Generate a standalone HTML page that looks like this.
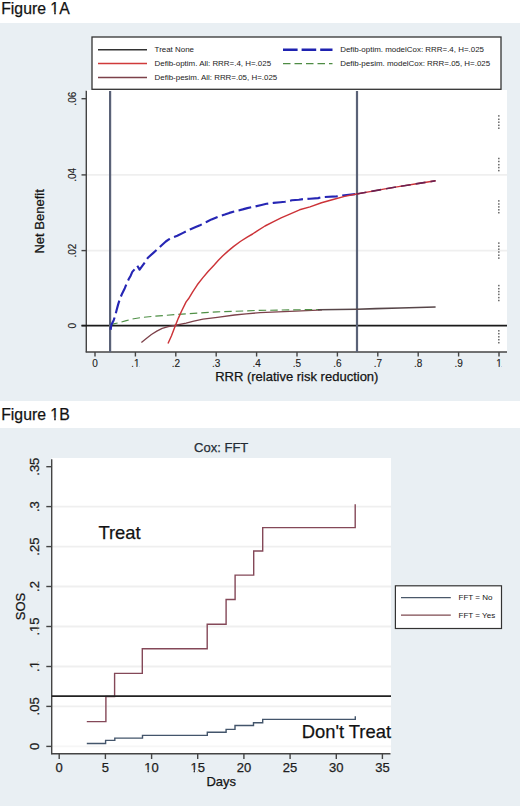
<!DOCTYPE html>
<html><head><meta charset="utf-8"><title>Figure 1</title>
<style>
html,body{margin:0;padding:0;background:#fff;width:520px;height:806px;overflow:hidden;}
svg{display:block;font-family:"Liberation Sans",sans-serif;}
text{stroke:#1a1a1a;stroke-width:0.25px;}
.nost text{stroke:none;}
.thin text{stroke-width:0.12px;}
</style></head>
<body>
<svg width="520" height="806" viewBox="0 0 520 806">
<!-- ================= FIGURE 1A ================= -->
<text x="1.2" y="13.9" font-size="15.8" fill="#111">Figure 1A</text>
<rect x="0" y="23" width="520" height="378" fill="#E9EFF3"/>
<!-- plot region -->
<rect x="86" y="90" width="421" height="262" fill="#fff"/>
<!-- gridlines -->
<g stroke="#EFEFEF" stroke-width="1.8">
<line x1="86" y1="174.9" x2="507" y2="174.9"/>
<line x1="86" y1="250.6" x2="507" y2="250.6"/>
</g>
<!-- legend -->
<rect x="92" y="37" width="409" height="52.3" fill="#fff" stroke="#333" stroke-width="1.3"/>
<g stroke-width="1.5" fill="none">
<line x1="98" y1="49.8" x2="147" y2="49.8" stroke="#333"/>
<line x1="98" y1="63.5" x2="147" y2="63.5" stroke="#D03A3A"/>
<line x1="98" y1="77.4" x2="147" y2="77.4" stroke="#7C414A"/>
<line x1="283" y1="49.8" x2="332.5" y2="49.8" stroke="#1E22B0" stroke-width="2.6" stroke-dasharray="14.6 4"/>
<line x1="283" y1="63.7" x2="332.5" y2="63.7" stroke="#4E8C44" stroke-width="1.2" stroke-dasharray="7.5 4"/>
</g>
<g class="nost" font-size="7.95" fill="#222">
<text x="154.6" y="52.4">Treat None</text>
<text x="154.6" y="66.2">Defib-optim. All: RRR=.4, H=.025</text>
<text x="154.6" y="80.1">Defib-pesim. All: RRR=.05, H=.025</text>
<text x="340.2" y="52.4">Defib-optim. modelCox: RRR=.4, H=.025</text>
<text x="340.2" y="66.2">Defib-pesim. modelCox: RRR=.05, H=.025</text>
</g>
<!-- axes -->
<g stroke="#444" stroke-width="1.4" fill="none">
<line x1="86.3" y1="90.8" x2="86.3" y2="352.3"/>
<line x1="85.7" y1="352" x2="507" y2="352"/>
<!-- y ticks -->
<line x1="81.5" y1="98.7" x2="86" y2="98.7"/>
<line x1="81.5" y1="174.9" x2="86" y2="174.9"/>
<line x1="81.5" y1="250.6" x2="86" y2="250.6"/>
<line x1="81.5" y1="325.6" x2="86" y2="325.6"/>
<!-- x ticks -->
<line x1="95" y1="352" x2="95" y2="356.5"/>
<line x1="135.4" y1="352" x2="135.4" y2="356.5"/>
<line x1="175.8" y1="352" x2="175.8" y2="356.5"/>
<line x1="216.2" y1="352" x2="216.2" y2="356.5"/>
<line x1="256.6" y1="352" x2="256.6" y2="356.5"/>
<line x1="297" y1="352" x2="297" y2="356.5"/>
<line x1="337.4" y1="352" x2="337.4" y2="356.5"/>
<line x1="377.8" y1="352" x2="377.8" y2="356.5"/>
<line x1="418.2" y1="352" x2="418.2" y2="356.5"/>
<line x1="458.6" y1="352" x2="458.6" y2="356.5"/>
<line x1="499" y1="352" x2="499" y2="356.5"/>
</g>
<g class="thin" font-size="10" fill="#222" text-anchor="middle">
<text x="95" y="367.3">0</text>
<text x="135.4" y="367.3">.1</text>
<text x="175.8" y="367.3">.2</text>
<text x="216.2" y="367.3">.3</text>
<text x="256.6" y="367.3">.4</text>
<text x="297" y="367.3">.5</text>
<text x="337.4" y="367.3">.6</text>
<text x="377.8" y="367.3">.7</text>
<text x="418.2" y="367.3">.8</text>
<text x="458.6" y="367.3">.9</text>
<text x="499" y="367.3">1</text>
<text transform="translate(75.5 98.7) rotate(-90)">.06</text>
<text transform="translate(75.5 174.9) rotate(-90)">.04</text>
<text transform="translate(75.5 250.6) rotate(-90)">.02</text>
<text transform="translate(75.5 325.6) rotate(-90)">0</text>
</g>
<text x="296.8" y="381.2" font-size="13" fill="#111" text-anchor="middle">RRR (relative risk reduction)</text>
<text transform="translate(44 221.4) rotate(-90)" font-size="13" fill="#111" text-anchor="middle">Net Benefit</text>

<!-- dotted marks at x=1 -->
<g fill="#707070">
<rect x="498" y="115.15" width="1.6" height="1.5"/>
<rect x="498" y="118.55" width="1.6" height="1.5"/>
<rect x="498" y="121.45" width="1.6" height="1.5"/>
<rect x="498" y="124.55" width="1.6" height="1.5"/>
<rect x="498" y="127.45" width="1.6" height="1.5"/>
<rect x="498" y="157.75" width="1.6" height="1.5"/>
<rect x="498" y="160.75" width="1.6" height="1.5"/>
<rect x="498" y="163.95" width="1.6" height="1.5"/>
<rect x="498" y="166.85" width="1.6" height="1.5"/>
<rect x="498" y="169.85" width="1.6" height="1.5"/>
<rect x="498" y="200.15" width="1.6" height="1.5"/>
<rect x="498" y="203.25" width="1.6" height="1.5"/>
<rect x="498" y="206.15" width="1.6" height="1.5"/>
<rect x="498" y="209.05" width="1.6" height="1.5"/>
<rect x="498" y="211.95" width="1.6" height="1.5"/>
<rect x="498" y="242.35" width="1.6" height="1.5"/>
<rect x="498" y="245.55" width="1.6" height="1.5"/>
<rect x="498" y="248.45" width="1.6" height="1.5"/>
<rect x="498" y="251.25" width="1.6" height="1.5"/>
<rect x="498" y="254.45" width="1.6" height="1.5"/>
<rect x="498" y="257.35" width="1.6" height="1.5"/>
<rect x="498" y="284.85" width="1.6" height="1.5"/>
<rect x="498" y="287.95" width="1.6" height="1.5"/>
<rect x="498" y="290.85" width="1.6" height="1.5"/>
<rect x="498" y="293.65" width="1.6" height="1.5"/>
<rect x="498" y="296.85" width="1.6" height="1.5"/>
<rect x="498" y="299.75" width="1.6" height="1.5"/>
<rect x="498" y="330.05" width="1.6" height="1.5"/>
<rect x="498" y="332.95" width="1.6" height="1.5"/>
<rect x="498" y="336.05" width="1.6" height="1.5"/>
<rect x="498" y="338.95" width="1.6" height="1.5"/>
<rect x="498" y="341.95" width="1.6" height="1.5"/>
</g>

<!-- curves -->
<g fill="none" stroke-linejoin="round">
<!-- zero line Treat None -->
<line x1="81.5" y1="325.6" x2="507" y2="325.6" stroke="#1a1a1a" stroke-width="1.8"/>
<!-- vertical lines -->
<line x1="110.1" y1="91" x2="110.1" y2="352" stroke="#5A6277" stroke-width="2.2"/>
<line x1="357" y1="91" x2="357" y2="352" stroke="#5A6277" stroke-width="2.2"/>
<!-- maroon: Defib-pesim All -->
<polyline stroke="#7C414A" stroke-width="1.3" points="141.4,342.5 146,338.8 151.4,334.5 156.8,331.1 162.2,328.4 168.3,326.6 174.5,325.5 186.1,323.1 193.8,321.2 203,319.2 217.3,317.3 234.6,315 246.1,313.8 260,312.7 290,311.3 318,310.1 322,309.9"/>
<!-- green dashed: Defib-pesim modelCox -->
<polyline stroke="#4F9046" stroke-width="1.15" stroke-dasharray="7.5 4" points="110.5,325.3 113.7,323.9 120.4,322.4 126.3,320.6 133.8,318.7 143,317.3 154,316.2 165.3,315.4 174.5,314.6 186.1,313.8 200,313 217.3,311.9 234.6,311.3 258,310.4 290,309.9 318,309.5"/>
<polyline stroke="#574649" stroke-width="1.6" points="318,309.8 357,309.2 376,308.6 400,308 435.6,307"/>
<!-- blue dashed: Defib-optim modelCox -->
<polyline stroke="#2626B4" stroke-width="2.15" stroke-dasharray="13 4.5" stroke-dashoffset="15.14" points="110.3,332.1 111.4,324.7 113.7,320.2 115.2,315.7 116.7,309.8 118.1,304.6 120,298.6 122.2,293.4 124.8,288.2 126.3,284.5 128.5,279.6 130.8,275.4 132.3,271.9 135,268.8 137.3,265.8 139.6,269.6 145,262.3 147.9,257.7 153.1,253.1 157.7,249 161.7,245.2 165.8,241.5 169.2,239.2 173.3,237.3 177.3,235.8 183.1,232.9 190,229.4 195.7,227.1 200,225.3 206.9,221.8 211.5,219.4 218.5,216.6 224.8,214.6 229.4,212.9 235.8,211.1 242.7,209.4 247.3,208.1 253.1,206.9 261.5,205 266.5,203.8 273.5,202.9 280.4,202.3 285,201.8 291.9,200.3 298.8,199.7 303.4,199.1 310,198.7 318.1,198.1 321.5,197.2 336.5,196.4 342.3,195.5 356.5,194"/>
<!-- red: Defib-optim All -->
<polyline stroke="#CC3338" stroke-width="1.45" points="168,343.5 171.5,335.8 175.3,325.8 178.4,318.1 181.5,311.2 186.1,301.9 188.5,298.8 192.7,291.8 197.3,284.8 202.7,277.9 208.1,271.5 214.2,265 218.4,260.3 222.6,256 228,251.1 233.4,246.6 240.3,241.5 247.2,237.1 252.6,234 256.9,231.1 265,226 273.1,221.9 281.1,217.9 290.4,213.8 299.6,209.8 310,206.9 321.5,202.8 333.1,199.5 344.6,196.4 356.5,194 370,191.6 385,188.9 400,186.4 415,184 435.6,180.8"/>
<polyline stroke="#6A2050" stroke-width="1.6" stroke-dasharray="10 5" points="356.5,194 370,191.6 385,188.9 400,186.4 415,184 435.6,180.8"/>
</g>

<!-- ================= FIGURE 1B ================= -->
<text x="1.2" y="419.5" font-size="15.8" fill="#111">Figure 1B</text>
<rect x="0" y="428" width="520" height="378" fill="#E9EFF3"/>
<text x="221.2" y="452.4" font-size="13" fill="#2A3646" text-anchor="middle">Cox: FFT</text>
<rect x="51.5" y="458" width="339.5" height="296" fill="#fff"/>
<g stroke="#EFEFEF" stroke-width="1.8">
<line x1="52" y1="506.6" x2="391" y2="506.6"/>
<line x1="52" y1="546.6" x2="391" y2="546.6"/>
<line x1="52" y1="586.5" x2="391" y2="586.5"/>
<line x1="52" y1="626.5" x2="391" y2="626.5"/>
<line x1="52" y1="666.5" x2="391" y2="666.5"/>
<line x1="52" y1="706.4" x2="391" y2="706.4"/>
<line x1="52" y1="746.4" x2="391" y2="746.4" stroke="#F6F6F6"/>
</g>
<g stroke="#444" stroke-width="1.4" fill="none">
<line x1="51.7" y1="459.2" x2="51.7" y2="754.3"/>
<line x1="51.1" y1="753.8" x2="390.5" y2="753.8"/>
<line x1="46.3" y1="466.7" x2="51.7" y2="466.7"/>
<line x1="46.3" y1="506.6" x2="51.7" y2="506.6"/>
<line x1="46.3" y1="546.6" x2="51.7" y2="546.6"/>
<line x1="46.3" y1="586.5" x2="51.7" y2="586.5"/>
<line x1="46.3" y1="626.5" x2="51.7" y2="626.5"/>
<line x1="46.3" y1="666.5" x2="51.7" y2="666.5"/>
<line x1="46.3" y1="706.4" x2="51.7" y2="706.4"/>
<line x1="46.3" y1="746.4" x2="51.7" y2="746.4"/>
<line x1="59.2" y1="753.8" x2="59.2" y2="759"/>
<line x1="105.4" y1="753.8" x2="105.4" y2="759"/>
<line x1="151.6" y1="753.8" x2="151.6" y2="759"/>
<line x1="197.7" y1="753.8" x2="197.7" y2="759"/>
<line x1="243.9" y1="753.8" x2="243.9" y2="759"/>
<line x1="290.1" y1="753.8" x2="290.1" y2="759"/>
<line x1="336.3" y1="753.8" x2="336.3" y2="759"/>
<line x1="382.4" y1="753.8" x2="382.4" y2="759"/>
</g>
<g font-size="13" fill="#222" text-anchor="middle">
<text x="59.2" y="771.5">0</text>
<text x="105.4" y="771.5">5</text>
<text x="151.6" y="771.5">10</text>
<text x="197.7" y="771.5">15</text>
<text x="243.9" y="771.5">20</text>
<text x="290.1" y="771.5">25</text>
<text x="336.3" y="771.5">30</text>
<text x="382.4" y="771.5">35</text>
<text transform="translate(39.3 466.7) rotate(-90)">.35</text>
<text transform="translate(39.3 506.6) rotate(-90)">.3</text>
<text transform="translate(39.3 546.6) rotate(-90)">.25</text>
<text transform="translate(39.3 586.5) rotate(-90)">.2</text>
<text transform="translate(39.3 626.5) rotate(-90)">.15</text>
<text transform="translate(39.3 666.5) rotate(-90)">.1</text>
<text transform="translate(39.3 706.4) rotate(-90)">.05</text>
<text transform="translate(39.3 746.4) rotate(-90)">0</text>
</g>
<text x="221.3" y="785.9" font-size="13" fill="#111" text-anchor="middle">Days</text>
<text transform="translate(25 606.5) rotate(-90)" font-size="13" fill="#111" text-anchor="middle">SOS</text>

<!-- FFT = No -->
<polyline fill="none" stroke="#43556B" stroke-width="1.4" points="86.8,743.5 105.6,743.5 105.6,740.4 114.8,740.4 114.8,738.1 142.5,738.1 142.5,735.4 207.3,735.4 207.3,732.3 226.1,732.3 226.1,729.4 235,729.4 235,725.5 253.5,725.5 253.5,722.8 262.7,722.8 262.7,719.4 355.3,719.4 355.3,716.3"/>
<!-- FFT = Yes -->
<polyline fill="none" stroke="#844858" stroke-width="1.4" points="86.8,721.6 105.9,721.6 105.9,696.5 114.6,696.5 114.6,673.4 142.3,673.4 142.3,648.7 207.2,648.7 207.2,624.2 226.1,624.2 226.1,599.5 235.1,599.5 235.1,575.1 253.7,575.1 253.7,551 262.7,551 262.7,527.6 355.2,527.6 355.2,504.3"/>
<!-- threshold line -->
<line x1="51.7" y1="696.1" x2="391" y2="696.1" stroke="#222" stroke-width="1.8"/>
<text x="98.4" y="539.4" font-size="18.4" fill="#111">Treat</text>
<text x="301.7" y="738" font-size="18.4" fill="#111">Don't Treat</text>
<!-- legend 2 -->
<rect x="395.4" y="585.8" width="106.1" height="42.7" fill="#fff" stroke="#333" stroke-width="1.2"/>
<line x1="401" y1="597.6" x2="450.8" y2="597.6" stroke="#4A586A" stroke-width="1.3"/>
<line x1="401" y1="615.2" x2="450.8" y2="615.2" stroke="#7E4A50" stroke-width="1.3"/>
<g class="nost" font-size="8" fill="#151515">
<text x="458.6" y="600.4">FFT = No</text>
<text x="458.6" y="618.3">FFT = Yes</text>
</g>
<!-- Arial-style "1" (no foot) -->
<rect x="49.58" y="11.77" width="4.63" height="4.74" fill="#fff"/>
<rect x="55.77" y="11.77" width="3.16" height="4.74" fill="#fff"/>
<rect x="49.58" y="417.37" width="4.63" height="4.74" fill="#fff"/>
<rect x="55.77" y="417.37" width="3.16" height="4.74" fill="#fff"/>
<rect x="133.51" y="365.95" width="2.93" height="3.00" fill="#E9EFF3"/>
<rect x="137.43" y="365.95" width="2.00" height="3.00" fill="#E9EFF3"/>
<rect x="495.72" y="365.95" width="2.93" height="3.00" fill="#E9EFF3"/>
<rect x="499.64" y="365.95" width="2.00" height="3.00" fill="#E9EFF3"/>
<rect x="143.07" y="769.75" width="4.46" height="3.90" fill="#E9EFF3"/>
<rect x="148.82" y="769.75" width="2.60" height="3.90" fill="#E9EFF3"/>
<rect x="189.17" y="769.75" width="4.46" height="3.90" fill="#E9EFF3"/>
<rect x="194.92" y="769.75" width="2.60" height="3.90" fill="#E9EFF3"/>
<g transform="translate(39.3 626.5) rotate(-90)"><rect x="-6.07" y="-1.76" width="3.81" height="3.90" fill="#E9EFF3"/><rect x="-0.98" y="-1.76" width="2.60" height="3.90" fill="#E9EFF3"/></g>
<g transform="translate(39.3 666.5) rotate(-90)"><rect x="-2.46" y="-1.76" width="3.81" height="3.90" fill="#E9EFF3"/><rect x="2.64" y="-1.76" width="2.60" height="3.90" fill="#E9EFF3"/></g>
<!-- end covers -->
</svg>
</body></html>
